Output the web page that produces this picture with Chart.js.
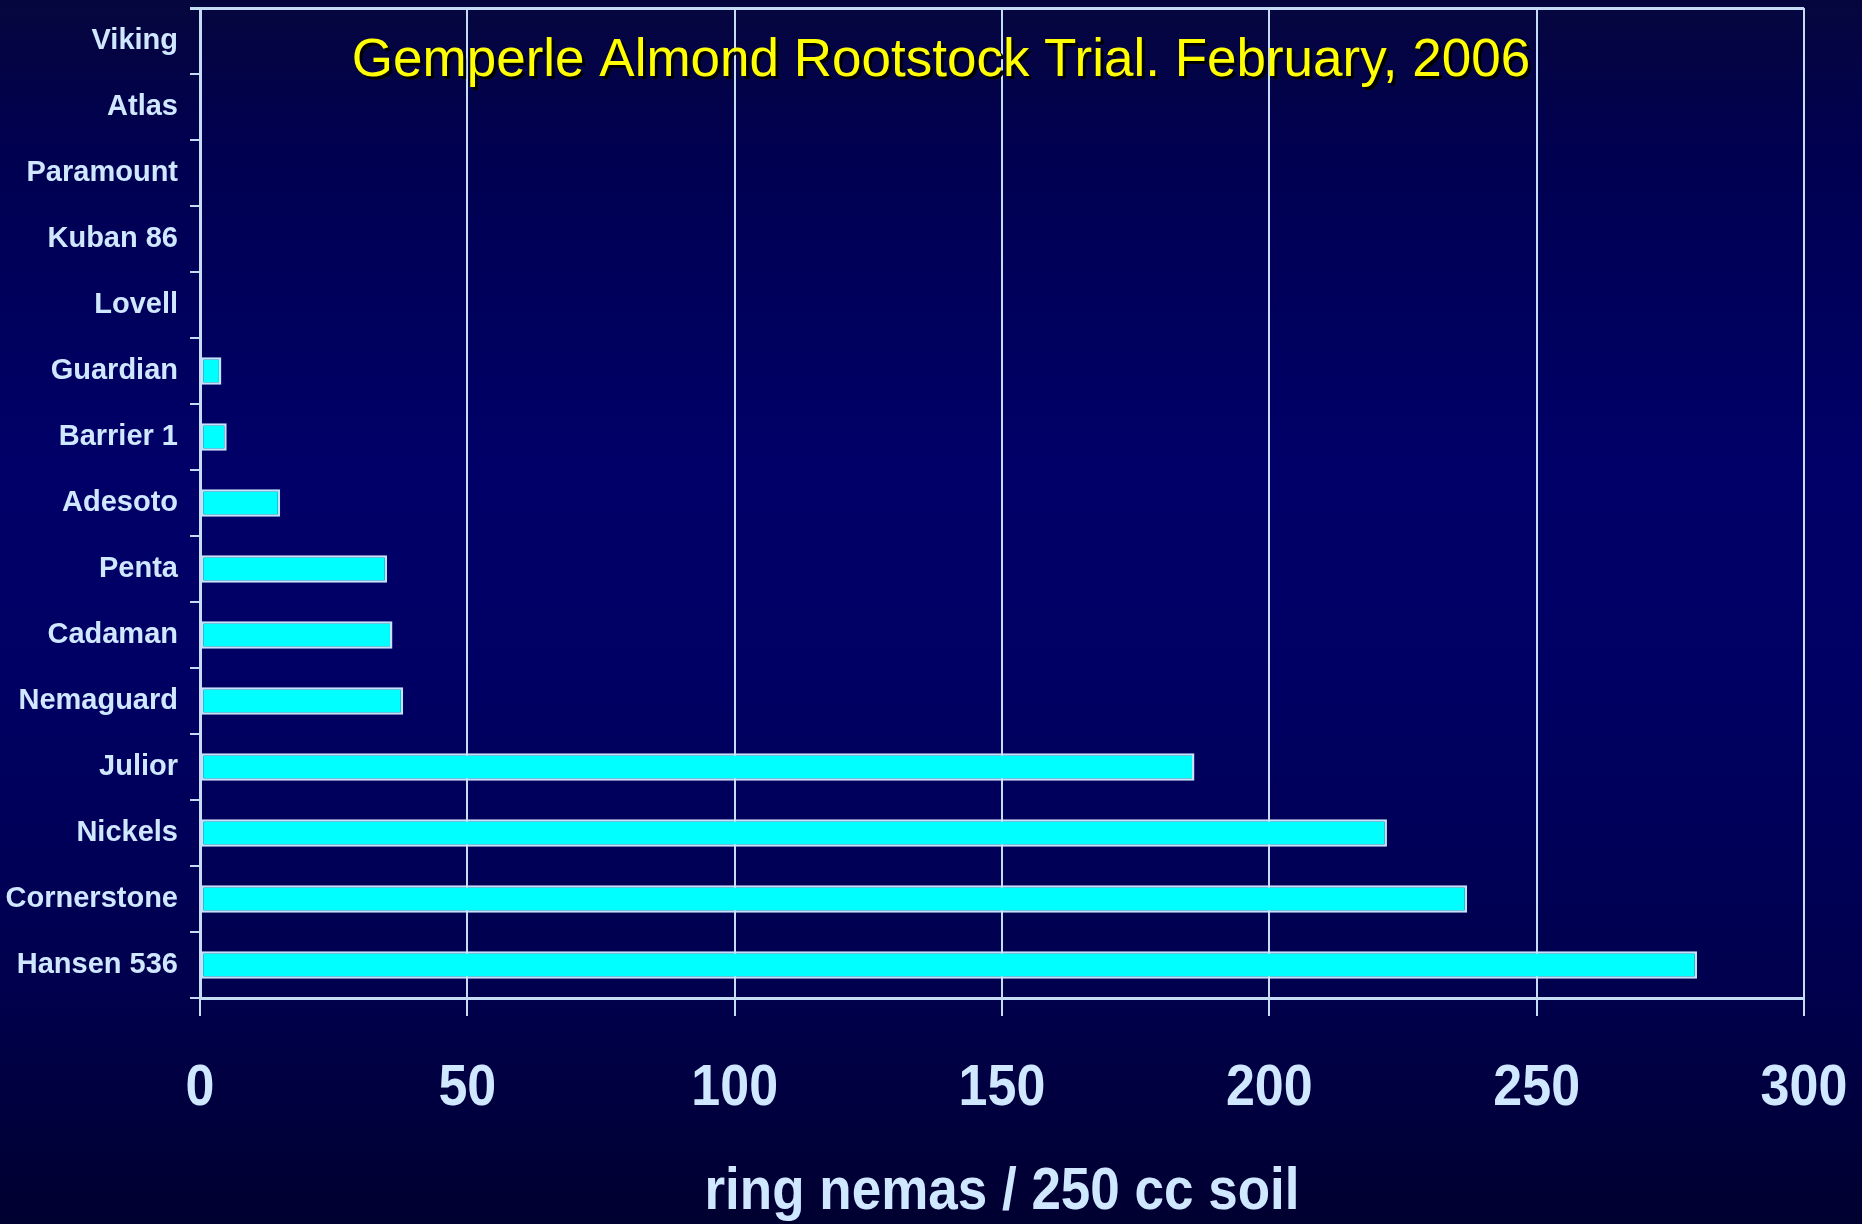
<!DOCTYPE html>
<html>
<head>
<meta charset="utf-8">
<style>
  html, body { margin: 0; padding: 0; background: #000040; }
  canvas { display: block; }
</style>
<script src="https://cdn.jsdelivr.net/npm/chart.js@4.4.1/dist/chart.umd.min.js"></script>
</head>
<body>
<canvas id="c" width="1862" height="1224"></canvas>
<script>
// ---- data ----
const categories = ['Viking', 'Atlas', 'Paramount', 'Kuban 86', 'Lovell', 'Guardian', 'Barrier 1', 'Adesoto', 'Penta', 'Cadaman', 'Nemaguard', 'Julior', 'Nickels', 'Cornerstone', 'Hansen 536'];
const nemaCounts = [0, 0, 0, 0, 0, 4, 5, 15, 35, 36, 38, 186, 222, 237, 280];
const xTickValues = [0, 50, 100, 150, 200, 250, 300];
const subtitleText = 'Gemperle Almond Rootstock Trial. February, 2006';
const xTitleText = 'ring nemas / 250 cc soil';

// ---- styles ----
const LABEL = '#CFE8FF';
const LINE = '#C4DDF5';
const BAR_FILL = '#00FFFF';
const BAR_EDGE = '#C6E2FA';
const FONT = "'Liberation Sans', Arial, Helvetica, sans-serif";
const TALL_TEXT = 1.12; // the slide's large axis text is slightly stretched vertically

const backgroundPlugin = {
  id: 'bg',
  beforeDraw(chart) {
    const { ctx, width, height } = chart;
    const g = ctx.createLinearGradient(0, 0, 0, height);
    g.addColorStop(0, 'rgb(6,6,62)');
    g.addColorStop(0.12, 'rgb(0,0,80)');
    g.addColorStop(0.38, 'rgb(0,0,104)');
    g.addColorStop(0.55, 'rgb(0,0,100)');
    g.addColorStop(0.8, 'rgb(0,0,78)');
    g.addColorStop(1, 'rgb(0,0,48)');
    ctx.save();
    ctx.fillStyle = g;
    ctx.fillRect(0, 0, width, height);
    ctx.restore();
    // stretch the large bold x-axis texts vertically around their anchor
    if (!ctx.__patched) {
      const orig = ctx.fillText.bind(ctx);
      ctx.fillText = function (text, x, y, maxW) {
        if (/bold 5\dpx/.test(ctx.font)) {
          ctx.save();
          ctx.translate(x, y);
          ctx.scale(1, TALL_TEXT);
          maxW === undefined ? orig(text, 0, 0) : orig(text, 0, 0, maxW);
          ctx.restore();
        } else {
          maxW === undefined ? orig(text, x, y) : orig(text, x, y, maxW);
        }
      };
      ctx.__patched = true;
    }
  }
};

const subtitlePlugin = {
  id: 'subtitle',
  afterDraw(chart) {
    const { ctx } = chart;
    ctx.save();
    ctx.font = `53px ${FONT}`;
    ctx.textAlign = 'center';
    ctx.textBaseline = 'alphabetic';
    ctx.shadowColor = 'rgba(0,0,0,0.95)';
    ctx.shadowOffsetX = 3;
    ctx.shadowOffsetY = 3;
    ctx.shadowBlur = 0;
    ctx.fillStyle = '#FFFF00';
    ctx.fillText(subtitleText, 941, 76);
    ctx.restore();
  }
};

new Chart(document.getElementById('c'), {
  type: 'bar',
  data: {
    labels: categories,
    datasets: [{
      data: nemaCounts,
      backgroundColor: BAR_FILL,
      borderColor: BAR_EDGE,
      borderWidth: 2.5,
      borderSkipped: false,
      categoryPercentage: 1,
      barPercentage: 0.42
    }]
  },
  options: {
    indexAxis: 'y',
    responsive: false,
    animation: false,
    devicePixelRatio: 1,
    layout: { padding: { top: 8, right: 58, left: 0, bottom: 0 } },
    plugins: { legend: { display: false }, tooltip: { enabled: false } },
    scales: {
      x: {
        type: 'linear',
        min: 0,
        max: 300,
        afterBuildTicks: s => { s.ticks = xTickValues.map(v => ({ value: v })); },
        ticks: {
          color: LABEL,
          font: { family: FONT, size: 52, weight: 'bold' },
          padding: 42,
          maxRotation: 0
        },
        grid: { color: LINE, lineWidth: 2, tickLength: 18, tickColor: LINE },
        border: { color: LINE, width: 3 },
        title: {
          display: true,
          text: xTitleText,
          color: LABEL,
          font: { family: FONT, size: 53, weight: 'bold', lineHeight: 1.2 },
          padding: { top: 0, bottom: 0 }
        },
        afterFit: s => { s.height = 226; s.paddingLeft = 0; s.paddingRight = 0; }
      },
      y: {
        ticks: {
          color: LABEL,
          font: { family: FONT, size: 29, weight: 'bold' },
          padding: 12
        },
        grid: {
          color: c => (c.index === 0 ? LINE : 'transparent'),
          lineWidth: c => (c.index === 0 ? 3 : 2),
          tickColor: LINE,
          tickLength: 10
        },
        border: { color: LINE, width: 3 },
        afterFit: s => { s.width = 200; s.paddingTop = 0; s.paddingBottom = 0; }
      }
    }
  },
  plugins: [backgroundPlugin, subtitlePlugin]
});
</script>
</body>
</html>
